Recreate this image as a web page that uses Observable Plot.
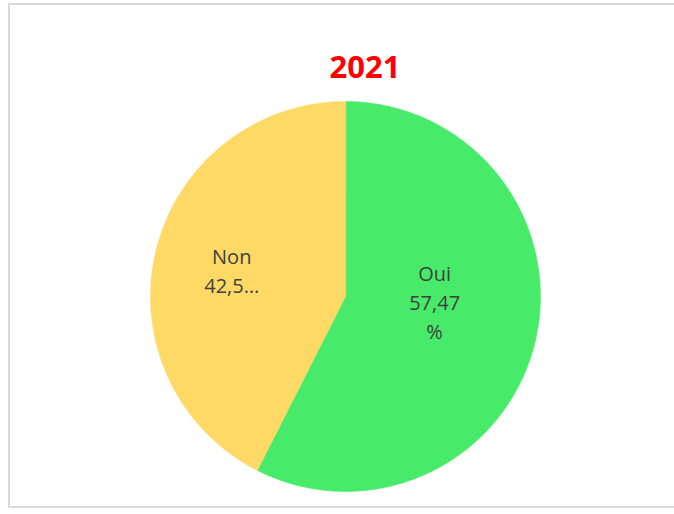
<!DOCTYPE html>
<html>
<head>
<meta charset="utf-8">
<script src="https://cdn.jsdelivr.net/npm/d3@7"></script>
<script src="https://cdn.jsdelivr.net/npm/@observablehq/plot@0.6"></script>
<style>
  html, body { margin: 0; padding: 0; background: #fff; overflow: hidden; }
  #wrap { position: relative; width: 674px; height: 514px; overflow: hidden; }
  #frame { position: absolute; left: 8px; top: 3px; width: 720px; height: 505px; border: 2px solid #d9d9d9; box-sizing: border-box; }
  #title { position: absolute; left: 8px; width: 714px; top: 44px; text-align: center; font-family: "Open Sans", sans-serif; font-weight: bold; font-size: 31px; color: #ff0000; line-height: 44px; }
  #chart { position: absolute; left: 0; top: 0; }
</style>
</head>
<body>
<div id="wrap">
  <div id="frame"></div>
  <div id="title">2021</div>
  <div id="chart"></div>
</div>
<script>
// Data
const title = "2021";
const categories = ["Oui", "Non"];
const values = [57.47, 42.53];
const colors = ["#47EB69", "#FFD966"];
const labelTexts = ["Oui\n57,47\n%", "Non\n42,5\u2026"];

// Layout (not data)
const labelLayout = { Oui: { r: 0.47, dy: -0.088 }, Non: { r: 0.6, dy: 0 } };

const pie = d3.pie().sort(null).value(d => d.value)(
  categories.map((c, i) => ({ label: c, value: values[i], text: labelTexts[i] }))
);

// polygon points for each slice (angles clockwise from top)
const pts = [];
for (const s of pie) {
  const lab = s.data.label;
  pts.push({ label: lab, x: 0, y: 0 });
  const n = Math.max(2, Math.ceil((s.endAngle - s.startAngle) / (Math.PI / 720)));
  for (let k = 0; k <= n; k++) {
    const a = s.startAngle + (s.endAngle - s.startAngle) * k / n;
    pts.push({ label: lab, x: Math.sin(a), y: Math.cos(a) });
  }
}

const labels = pie.map(s => {
  const m = (s.startAngle + s.endAngle) / 2;
  const L = labelLayout[s.data.label];
  return { text: s.data.text, x: L.r * Math.sin(m), y: L.r * Math.cos(m) - L.dy };
});

const chart = Plot.plot({
  width: 674,
  height: 514,
  margin: 0,
  x: { domain: [-1, 1], range: [150, 540], axis: null },
  y: { domain: [-1, 1], range: [491, 101], axis: null },
  color: { domain: categories, range: colors },
  marks: [
    Plot.line(pts, { x: "x", y: "y", z: "label", fill: "label", stroke: "label", strokeWidth: 0.5, curve: "linear-closed" }),
    Plot.text(labels, {
      x: "x", y: "y", text: "text",
      fill: "#404040", fontSize: 20, lineHeight: 1.45,
      fontFamily: "Open Sans, sans-serif", textAnchor: "middle", lineAnchor: "middle"
    })
  ]
});
chart.style.background = "transparent";
document.getElementById("chart").appendChild(chart);
</script>
</body>
</html>
